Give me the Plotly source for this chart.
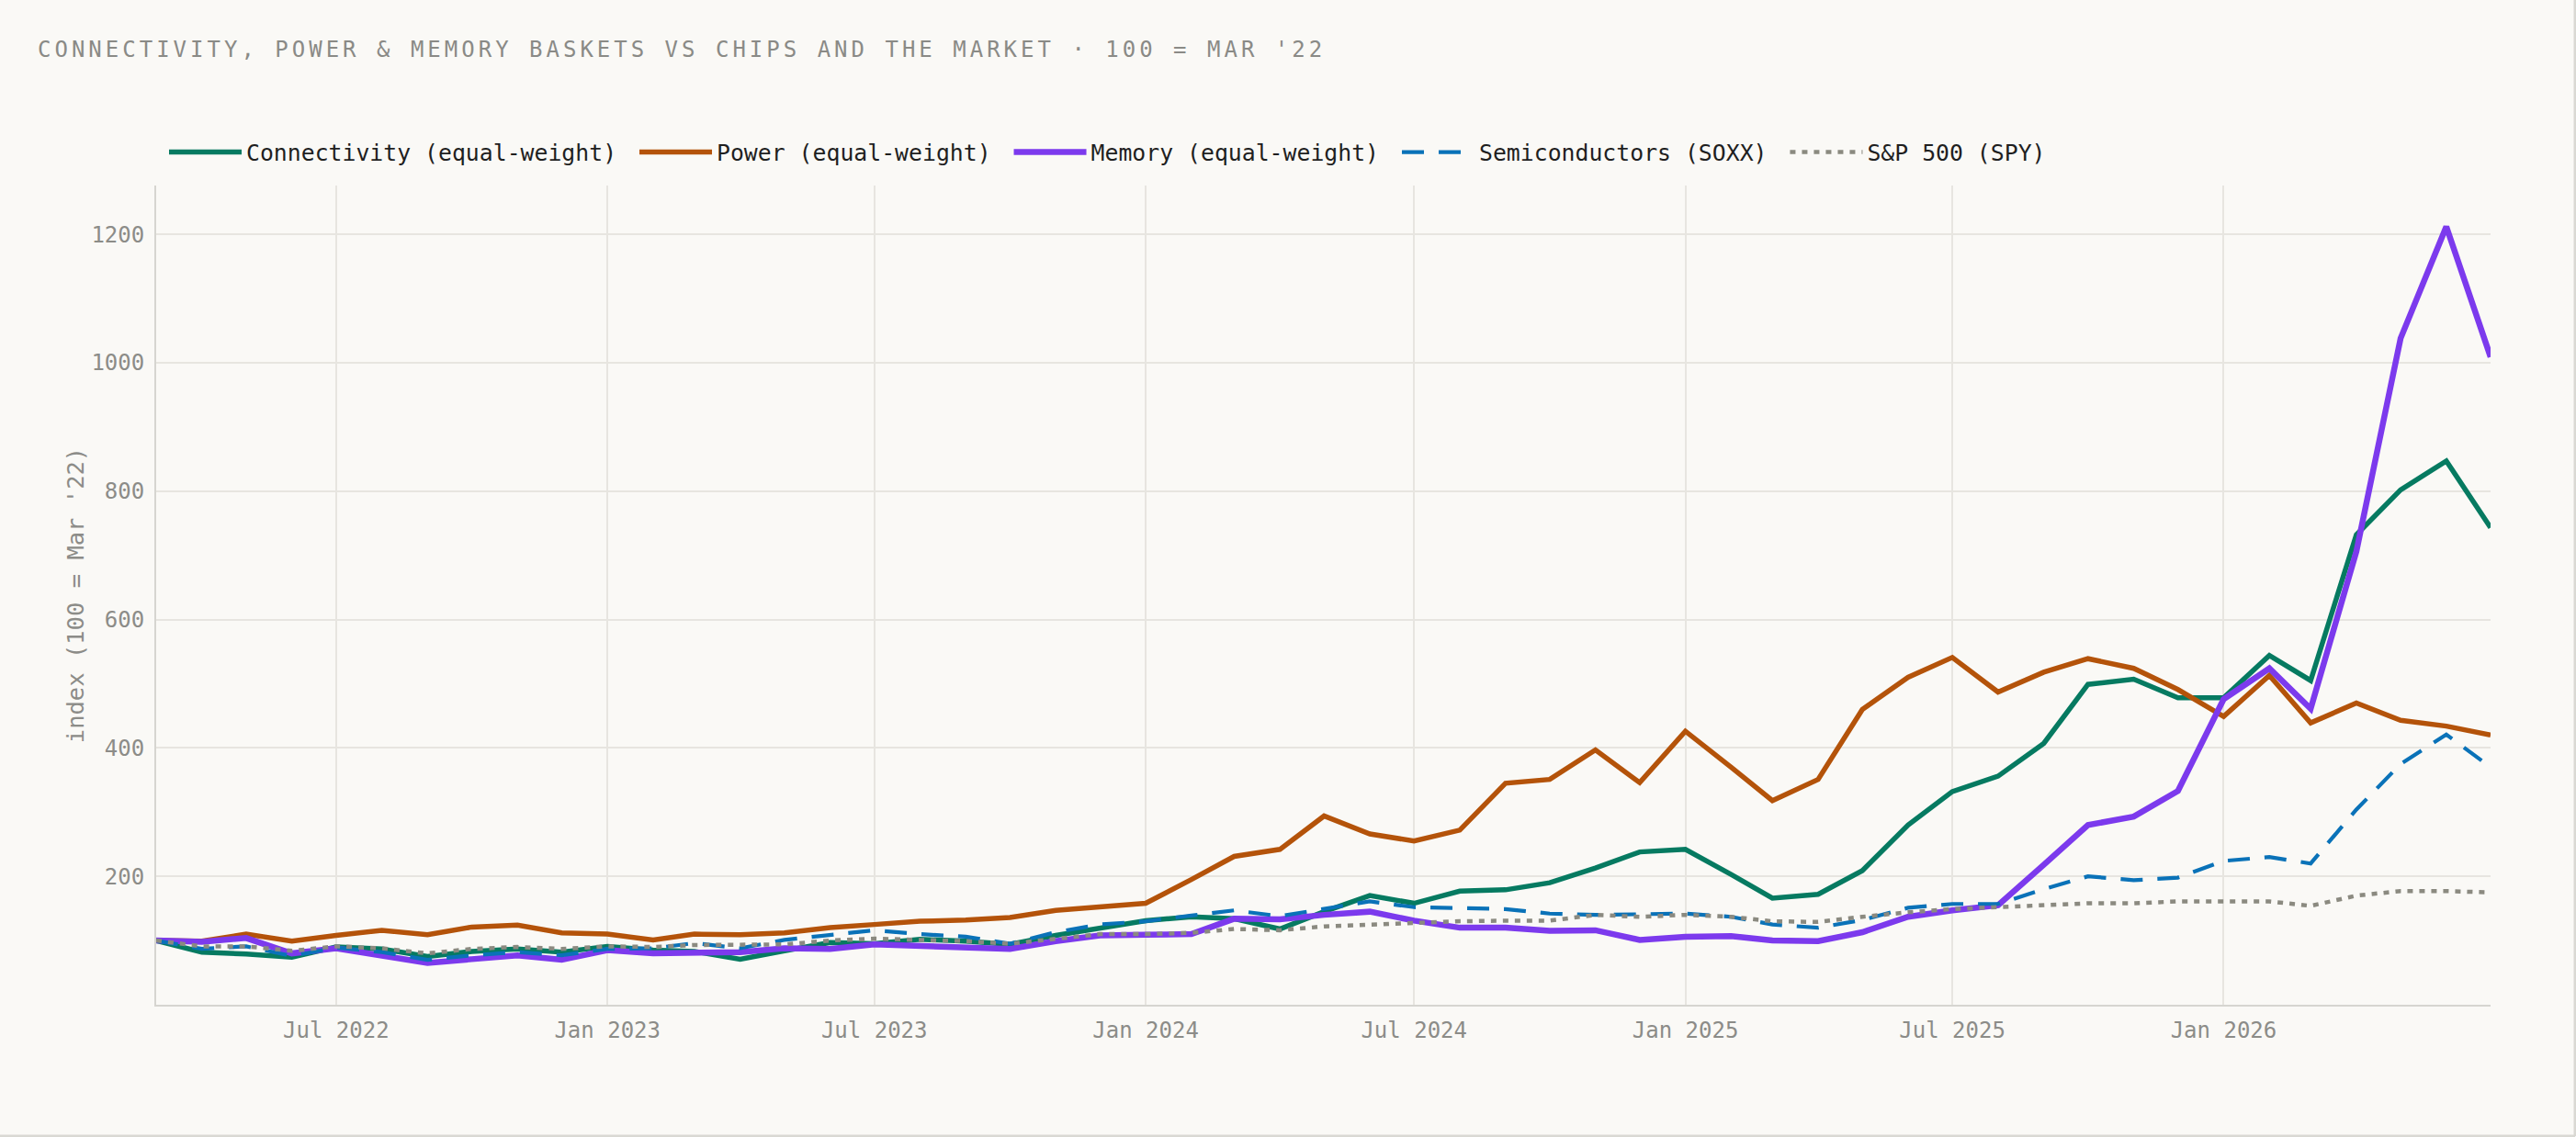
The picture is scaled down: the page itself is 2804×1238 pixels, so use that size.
import pandas as pd
import plotly.graph_objects as go

# ---- data (index, 100 = Mar '22), monthly Mar 2022 .. Jul 2026 ----
months = pd.date_range("2022-03-01", periods=53, freq="MS")

connectivity = [
    100, 82, 79, 74, 90, 87, 75, 83, 87, 82,
    91, 85, 83, 71, 84, 97, 95, 102, 99, 94, 108, 120,
    131, 137, 134, 118, 145, 170, 158, 177, 179, 190, 213, 238,
    242, 203, 166, 172, 209, 280, 332, 356, 407, 499, 507, 478,
    478, 544, 505, 732, 802, 847, 743,
]
power = [
    100, 99, 110, 99, 108, 116, 109, 121, 124, 112,
    110, 101, 110, 109, 112, 120, 125, 130, 132, 136, 147, 152,
    158, 195, 231, 242, 294, 266, 255, 272, 345, 351, 397, 346,
    426, 370, 318, 351, 460, 510, 541, 487, 518, 539, 524, 491,
    449, 513, 439, 470, 443, 434, 420,
]
memory = [
    100, 98, 104, 80, 88, 77, 65, 71, 77, 70,
    85, 80, 80, 82, 88, 87, 94, 92, 91, 87, 99, 108,
    109, 110, 134, 133, 140, 145, 131, 120, 120, 115, 116, 101,
    106, 107, 100, 99, 113, 137, 147, 155, 218, 280, 293, 333,
    476, 524, 461, 706, 1038, 1212, 1009,
]
soxx = [
    100, 87, 91, 76, 89, 82, 70, 77, 82, 77,
    87, 88, 96, 88, 101, 108, 116, 110, 106, 95, 113, 125,
    130, 139, 147, 138, 150, 161, 152, 151, 149, 142, 140, 141,
    142, 137, 125, 120, 132, 151, 157, 157, 180, 200, 194, 198,
    224, 230, 220, 304, 375, 421, 370,
]
spy = [
    100, 91, 91, 84, 91, 88, 80, 87, 90, 87,
    91, 90, 93, 94, 94, 100, 103, 101, 99, 95, 103, 110,
    110, 112, 118, 116, 122, 125, 127, 130, 131, 131, 140, 137,
    140, 137, 130, 129, 137, 144, 149, 152, 156, 158, 158, 161,
    161, 161, 154, 170, 177, 177, 175,
]

x_tick_dates = ["2022-07-01", "2023-01-01", "2023-07-01", "2024-01-01",
                "2024-07-01", "2025-01-01", "2025-07-01", "2026-01-01"]
x_tick_labels = ["Jul 2022", "Jan 2023", "Jul 2023", "Jan 2024",
                 "Jul 2024", "Jan 2025", "Jul 2025", "Jan 2026"]
y_ticks = [200, 400, 600, 800, 1000, 1200]

series = [
    ("Connectivity (equal-weight)", connectivity, "#067a61", 5.5, "solid"),
    ("Power (equal-weight)", power, "#b4530a", 5.5, "solid"),
    ("Memory (equal-weight)", memory, "#7c3aed", 6.5, "solid"),
    ("Semiconductors (SOXX)", soxx, "#0a72b8", 4.2, "24px,16px"),
    ("S&P 500 (SPY)", spy, "#8b8a80", 4.5, "6px,7px"),
]

FONT = "DejaVu Sans Mono, Liberation Mono, monospace"
BG = "#faf9f6"
W, H = 2804, 1238
ML, MR, MT, MB = 170, 93, 202, 144
NB = "\u00a0"

fig = go.Figure()
for name, vals, color, width, dash in series:
    fig.add_trace(go.Scatter(
        x=months, y=vals, name=name + NB, mode="lines",
        line=dict(color=color, width=width, dash=dash),
    ))

pw = W - ML - MR
ph = H - MT - MB

fig.update_layout(
    width=W, height=H,
    margin=dict(l=ML, r=MR, t=MT, b=MB, pad=0),
    paper_bgcolor=BG, plot_bgcolor=BG,
    font=dict(family=FONT, size=24, color="#8a8a86"),
    title=dict(
        text="CONNECTIVITY, POWER & MEMORY BASKETS VS CHIPS AND THE MARKET · 100 = MAR '22",
        font=dict(family=FONT, size=24, color="#8a8a86"),
        xref="container", yref="container",
        x=41 / W, xanchor="left", y=1 - 54 / H, yanchor="middle",
    ),
    legend=dict(
        orientation="h", x=9 / pw, xanchor="left",
        y=1 + (MT - 166) / ph, yanchor="middle",
        font=dict(family=FONT, size=24.8, color="#1f1f1f"),
        bgcolor="rgba(0,0,0,0)", itemwidth=79,
        traceorder="normal",
    ),
    showlegend=True,
    hovermode=False,
)

fig.update_xaxes(
    type="date",
    range=[months[0], months[-1]],
    tickvals=x_tick_dates, ticktext=x_tick_labels,
    showgrid=True, gridcolor="#e7e5e0", gridwidth=2,
    showline=True, linecolor="#d6d5d0", linewidth=2,
    ticks="", ticklabelstandoff=5,
    tickfont=dict(family=FONT, size=24, color="#8c8c88"),
    zeroline=False,
)
fig.update_yaxes(
    range=[0, 1276],
    tickvals=y_ticks, ticktext=[str(v) for v in y_ticks],
    showgrid=True, gridcolor="#e7e5e0", gridwidth=2,
    showline=True, linecolor="#d6d5d0", linewidth=2,
    ticks="", ticklabelstandoff=6,
    tickfont=dict(family=FONT, size=24, color="#8c8c88"),
    title=dict(text="index (100 = Mar '22)", font=dict(family=FONT, size=25.5, color="#8c8c88"), standoff=0),
    zeroline=False,
)

# thin frame on right and bottom edges of the canvas
fx1 = 1 + (MR - 1) / pw
fy0 = -(MB - 1) / ph
fig.add_shape(type="line", xref="paper", yref="paper", x0=fx1, x1=fx1, y0=fy0, y1=1 + MT / ph,
              line=dict(color="#d9d8d3", width=3), layer="above")
fig.add_shape(type="line", xref="paper", yref="paper", x0=-ML / pw, x1=fx1, y0=fy0, y1=fy0,
              line=dict(color="#d9d8d3", width=3), layer="above")

post = """
document.body.style.margin='0';
document.querySelectorAll('.gtitle').forEach(function(e){e.style.letterSpacing='4px';});
"""
fig.write_html("out.html", post_script=post, config={"displayModeBar": False})
